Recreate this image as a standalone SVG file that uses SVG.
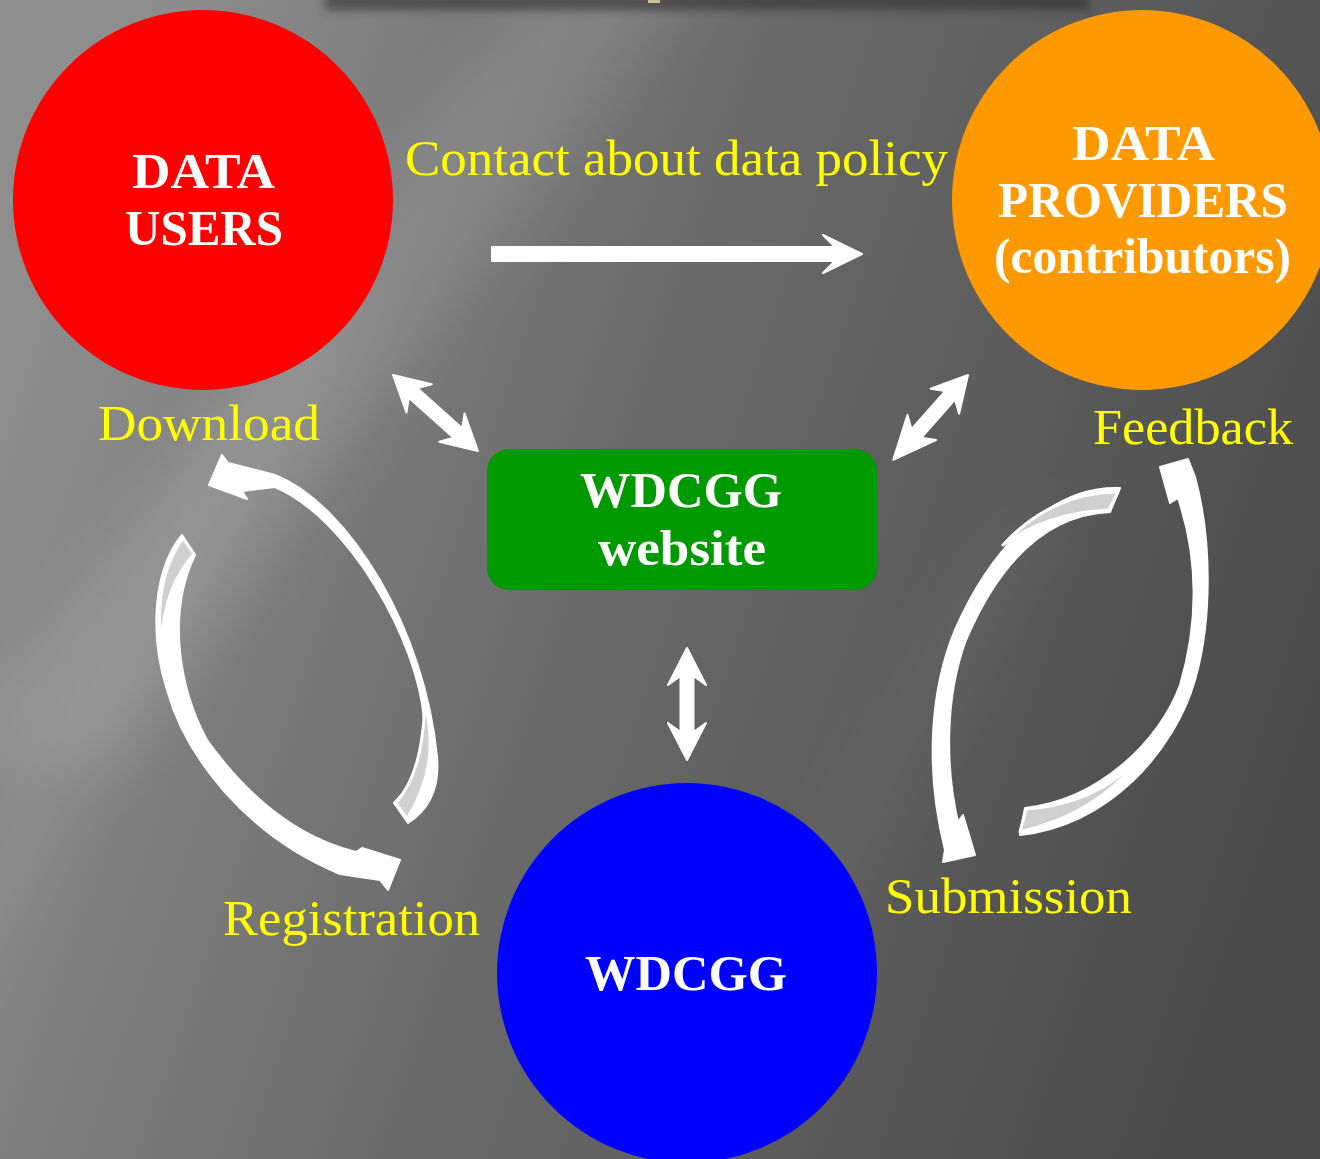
<svg xmlns="http://www.w3.org/2000/svg" width="1320" height="1159" viewBox="0 0 1320 1159">
<defs>
<linearGradient id="bg" x1="0" y1="0.35" x2="1" y2="0.65">
<stop offset="0" stop-color="#8e8e8e"/>
<stop offset="0.45" stop-color="#6a6a6a"/>
<stop offset="1" stop-color="#4a4a4a"/>
</linearGradient>
<filter id="blur30" x="-50%" y="-50%" width="200%" height="200%"><feGaussianBlur stdDeviation="30"/></filter>
<filter id="blur6" x="-20%" y="-200%" width="140%" height="500%"><feGaussianBlur stdDeviation="5"/></filter>
<style>
.lbl{font-family:"Liberation Serif","DejaVu Serif",serif;font-size:50px;fill:#ffff00}
.nt{font-family:"Liberation Serif","DejaVu Serif",serif;font-size:50px;font-weight:bold;fill:#ffffff;text-anchor:middle}
.wa{fill:#ffffff;stroke:#ffffff;stroke-width:2;stroke-linejoin:round}
.gt{fill:#d0d0d0;stroke:#ffffff;stroke-width:3;stroke-linejoin:round}
</style>
</defs>
<rect width="1320" height="1159" fill="url(#bg)"/>
<g opacity="0.5">
<polygon points="560,-50 720,-50 120,760 -60,760" fill="#ffffff" opacity="0.2" filter="url(#blur30)"/>
<polygon points="300,300 380,300 -40,1000 -120,1000" fill="#ffffff" opacity="0.15" filter="url(#blur30)"/>
<polygon points="1000,500 1080,500 700,1159 620,1159" fill="#ffffff" opacity="0.08" filter="url(#blur30)"/>
</g>
<rect x="325" y="-6" width="765" height="16" fill="#2e2e2e" opacity="0.6" filter="url(#blur6)"/>
<rect x="648" y="0" width="12" height="3" fill="#c9c29a"/>

<g id="connectors">
<polygon class="wa" points="492,247 835,247 823,235 862,254 823,273 835,261 492,261"/>
<polygon class="wa" transform="translate(393,375) rotate(41.8)" points="0,0 35,-19 27,-6.5 87,-6.5 79,-19 114,0 79,19 87,6.5 27,6.5 35,19"/>
<polygon class="wa" transform="translate(968,375) rotate(131.4)" points="0,0 35,-19 27,-6.5 78,-6.5 70,-19 113,0 70,19 78,6.5 27,6.5 35,19"/>
<polygon class="wa" transform="translate(687,648) rotate(90)" points="0,0 37,-19 28,-6.5 84,-6.5 75,-19 112,0 75,19 84,6.5 28,6.5 37,19"/>
<path class="wa" d="M 275,475 C 350,505 425,630 437,757 C 440,790 428,810 408,823 L 394,803 C 414,783 425,755 424,720 C 418,640 348,518 275,487 L 242,491 L 247,499 L 209,485 L 222,455 L 228,463 Z"/>
<path class="gt" d="M 425,702 C 434,740 433,778 407,819 L 396,803 C 414,782 423,752 425,702 Z"/>
<path class="wa" d="M 182,535 C 155,568 148,630 167,690 C 185,755 245,835 340,874 L 380,880 L 388,890 L 400,860 L 362,848 L 356,852 C 300,838 250,800 207,740 C 180,690 166,615 195,555 Z"/>
<path class="gt" d="M 183,538 C 163,565 157,600 160,645 C 165,600 175,575 194,554 Z"/>
<path class="wa" d="M 1195,477 C 1212,540 1212,620 1195,680 C 1175,750 1110,825 1020,835 L 1025,808 C 1100,800 1160,740 1180,685 C 1198,625 1199,560 1178,498 L 1170,503 L 1160,467 L 1188,459 Z"/>
<path class="gt" d="M 1140,757 C 1115,792 1078,818 1020,832 L 1026,809 C 1070,806 1110,790 1140,757 Z"/>
<path class="wa" d="M 1120,488 C 1050,485 990,550 955,630 C 930,690 925,770 945,850 L 943,862 L 975,855 L 963,815 L 958,822 C 946,770 944,700 966,640 C 996,570 1040,515 1110,512 Z"/>
<path class="gt" d="M 1118,492 C 1075,492 1035,510 1003,545 C 1030,525 1065,512 1109,510 Z"/>
<text class="lbl" x="405" y="175" textLength="543" lengthAdjust="spacingAndGlyphs">Contact about data policy</text>
<text class="lbl" x="98" y="440" textLength="222" lengthAdjust="spacingAndGlyphs">Download</text>
<text class="lbl" x="1093" y="444" textLength="200" lengthAdjust="spacingAndGlyphs">Feedback</text>
<text class="lbl" x="223" y="935" textLength="257" lengthAdjust="spacingAndGlyphs">Registration</text>
<text class="lbl" x="885" y="913" textLength="247" lengthAdjust="spacingAndGlyphs">Submission</text>
</g>

<g id="data-users">
<circle cx="203" cy="200" r="190" fill="#ff0000"/>
<text class="nt" x="203.5" y="188" textLength="143" lengthAdjust="spacingAndGlyphs">DATA</text>
<text class="nt" x="204" y="245" textLength="158" lengthAdjust="spacingAndGlyphs">USERS</text>
</g>
<g id="data-providers">
<circle cx="1142" cy="200" r="190" fill="#ff9900"/>
<text class="nt" x="1143.5" y="160" textLength="143" lengthAdjust="spacingAndGlyphs">DATA</text>
<text class="nt" x="1143" y="217" textLength="290" lengthAdjust="spacingAndGlyphs">PROVIDERS</text>
<text class="nt" x="1142.5" y="273" textLength="297" lengthAdjust="spacingAndGlyphs">(contributors)</text>
</g>
<g id="wdcgg-website">
<rect x="487" y="449" width="390" height="141" rx="22" fill="#009900"/>
<text class="nt" x="681" y="507" textLength="202" lengthAdjust="spacingAndGlyphs">WDCGG</text>
<text class="nt" x="682" y="565" textLength="168" lengthAdjust="spacingAndGlyphs">website</text>
</g>
<g id="wdcgg">
<circle cx="687" cy="973" r="190" fill="#0000ff"/>
<text class="nt" x="686" y="990" textLength="202" lengthAdjust="spacingAndGlyphs">WDCGG</text>
</g>
</svg>
